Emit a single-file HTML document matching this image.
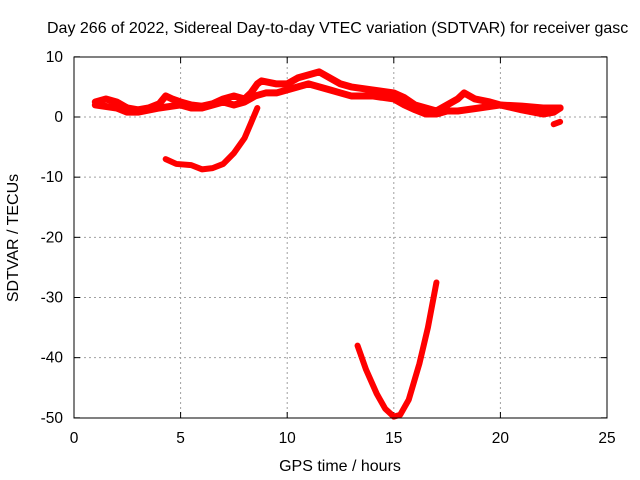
<!DOCTYPE html>
<html><head><meta charset="utf-8"><style>
body{margin:0;background:#fff}
svg{display:block;font-family:"Liberation Sans",sans-serif;font-size:15.5px}
</style></head><body>
<svg id="c" width="640" height="480">
<text x="47" y="33" font-size="16">Day 266 of 2022, Sidereal Day-to-day VTEC variation (SDTVAR) for receiver gasc</text>
<g id="grid"></g><g id="ticks"></g><g id="series"></g>
<rect x="74" y="57" width="533" height="361" fill="none" stroke="#000"/>
<text x="340" y="471" text-anchor="middle" font-size="16">GPS time / hours</text>
<text transform="translate(18,238) rotate(-90)" text-anchor="middle" font-size="16">SDTVAR / TECUs</text>
</svg>
<script>
const xTicks=[0,5,10,15,20,25];
const yTicks=[10,0,-10,-20,-30,-40,-50];
const upperX=[1,1.5,2,2.5,3,3.5,4,4.3,4.6,5,5.5,6,6.5,7,7.5,8,8.3,8.6,8.8,9.5,10,10.5,11,11.5,12,12.5,13,14,15,15.5,16,17,17.5,18,18.3,18.8,19.5,20,21,22,22.8];
const upperY=[2.5,3,2.5,1.5,1.2,1.5,2.2,3.5,3,2.5,2,1.8,2.2,3,3.5,3,4,5.5,6,5.5,5.5,6.5,7,7.5,6.5,5.5,5,4.5,4,3.2,2,1,2,3,4,3,2.5,2,1.8,1.5,1.5];
const lowerX=[1,2,2.5,3,4,5,5.5,6,7,7.5,8,8.5,9,9.5,10,10.5,11,11.5,12,12.5,13,14,15,15.5,16,16.5,17,17.5,18,19,20,21,22,22.5,22.8];
const lowerY=[2,1.5,0.8,0.8,1.5,2,1.5,1.5,2.5,2,2.5,3.5,4,4,4.5,5,5.5,5,4.5,4,3.5,3.5,3,2,1.2,0.5,0.5,1,1,1.5,2,1.2,0.5,0.8,1.5];
const arcX=[4.3,4.8,5.5,6,6.5,7,7.5,8,8.3,8.6];
const arcY=[-7,-7.8,-8,-8.7,-8.5,-7.8,-6,-3.5,-1,1.5];
const tailX=[22.5,22.8];
const tailY=[-1.2,-0.8];
const dipX=[13.3,13.7,14.2,14.6,15,15.3,15.7,16.2,16.6,17];
const dipY=[-38,-42,-46,-48.5,-49.8,-49.5,-47,-41,-35,-27.5];
const NS='http://www.w3.org/2000/svg';
const X=v=>74+v*533/25, Y=v=>117-v*361/60;
function mk(t,a,p){const e=document.createElementNS(NS,t);for(const k in a)e.setAttribute(k,a[k]);p.appendChild(e);return e;}
const G=document.getElementById('grid'),T=document.getElementById('ticks'),S=document.getElementById('series');
xTicks.forEach(v=>{const x=X(v);
 if(v>0&&v<25){const l=mk('line',{x1:x,x2:x,y1:57,y2:418,stroke:'#a0a0a0','stroke-dasharray':'2,3'},G);
 
 }
 mk('line',{x1:x,x2:x,y1:418,y2:412,stroke:'#000'},T);mk('line',{x1:x,x2:x,y1:57,y2:63,stroke:'#000'},T);
 const t=mk('text',{x:x,y:443,'text-anchor':'middle'},T);t.textContent=v;
 
 });
yTicks.forEach(v=>{const y=Y(v);
 if(v<10&&v>-50){const l=mk('line',{x1:74,x2:607,y1:y,y2:y,stroke:'#a0a0a0','stroke-dasharray':'2,3'},G);
 
 }
 mk('line',{x1:74,x2:80,y1:y,y2:y,stroke:'#000'},T);mk('line',{x1:607,x2:601,y1:y,y2:y,stroke:'#000'},T);
 const t=mk('text',{x:63,y:y+5,'text-anchor':'end'},T);t.textContent=v;
 
 });
function series(xs,ys,name,w){
 const pts=xs.map((x,i)=>X(x)+','+Y(ys[i])).join(' ');
 const p=mk('polyline',{points:pts,fill:'none',stroke:'#f00','stroke-width':w,'stroke-linejoin':'round','stroke-linecap':'round'},S);
 
 
}
series(upperX,upperY,'sdtvar-upper-track',7);
series(lowerX,lowerY,'sdtvar-lower-track',7);
series(arcX,arcY,'sdtvar-arc',6);
series(tailX,tailY,'sdtvar-tail',6);
series(dipX,dipY,'sdtvar-dip',6);
</script>
</body></html>
